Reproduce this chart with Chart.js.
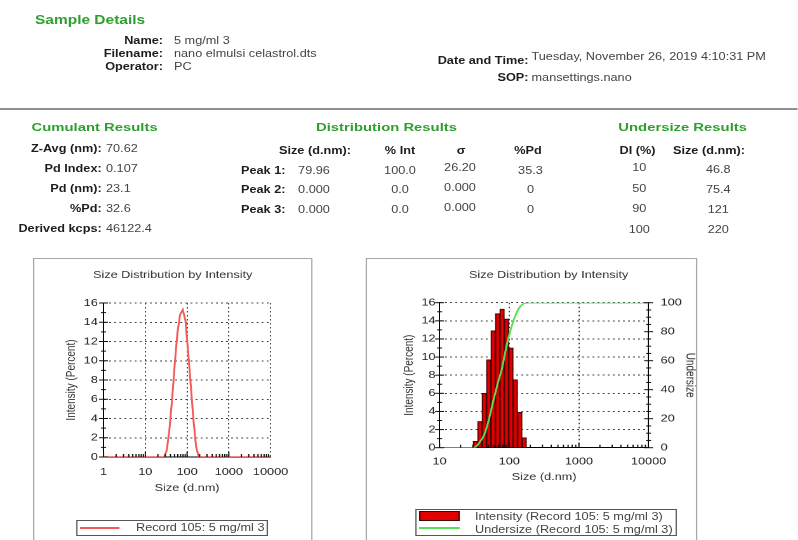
<!DOCTYPE html>
<html>
<head>
<meta charset="utf-8">
<script src="https://cdn.jsdelivr.net/npm/chart.js@4.4.0/dist/chart.umd.min.js"></script>
<style>
  html, body { margin: 0; padding: 0; background: #fff; overflow: hidden; }
  body { width: 798px; height: 540px; position: relative; }
  #page { position: absolute; left: 0; top: 0; height: 540px; transform-origin: 0 0;
          font-family: 'Liberation Sans', Arial, sans-serif; }
  .t { position: absolute; white-space: nowrap; font-size: 10px; line-height: 12px; color: #444; }
  .b { font-weight: bold; color: #1d1d1d; }
  .g { font-weight: bold; color: #2f9f2f; font-size: 11.7px; }
  .box { position: absolute; box-sizing: border-box; }
  canvas { position: absolute; }
</style>
</head>
<body>
<div id="page"></div>
<script>
// bin sizes (d.nm) and intensity (%)
const sizes     = [1, 28.21, 32.67, 37.84, 43.82, 50.75, 58.77, 68.06, 78.82, 91.28, 105.7, 122.4, 141.8, 164.2, 190.1, 10000];
const intensity = [0, 0,     0.7,   2.9,   6.0,   9.7,   12.9,  14.8,  15.3,  14.2,  11.0,  7.5,   3.9,   1.1,   0,     0];
const undersize = [0, 0,     0.5,   4,     9,     19,    32,    44,    55,    70,    82,    91,    97,    99.5,  100,   100];

const xTicksLeft  = [1, 10, 100, 1000, 10000];
const xTicksRight = [10, 100, 1000, 10000];
const intensityRange = [0, 16];
const undersizeRange = [0, 100];

const chartTitle = 'Size Distribution by Intensity';
const legendLeft = 'Record 105: 5 mg/ml 3';
const legendRight = ['Intensity (Record 105: 5 mg/ml 3)', 'Undersize (Record 105: 5 mg/ml 3)'];

// report text
const sampleLabels = ['Name:', 'Filename:', 'Operator:'];
const sampleValues = ['5 mg/ml 3', 'nano elmulsi celastrol.dts', 'PC'];
const cumulantLabels = ['Z-Avg (nm):', 'Pd Index:', 'Pd (nm):', '%Pd:', 'Derived kcps:'];
const cumulantValues = ['70.62', '0.107', '23.1', '32.6', '46122.4'];
const peakLabels = ['Peak 1:', 'Peak 2:', 'Peak 3:'];
const peakSize  = ['79.96', '0.000', '0.000'];
const peakInt   = ['100.0', '0.0', '0.0'];
const peakSigma = ['26.20', '0.000', '0.000'];
const peakPd    = ['35.3', '0', '0'];
const diPercent = ['10', '50', '90', '100'];
const diSize    = ['46.8', '75.4', '121', '220'];

// the whole report is stretched sideways
const S = 1.27;
const page = document.getElementById('page');
page.style.width = (798 / S) + 'px';
page.style.transform = 'scaleX(' + S + ')';

function put(str, x, y, cls, align) {
  const d = document.createElement('div');
  d.className = 't ' + (cls || '');
  d.textContent = str;
  d.style.top = (y - 6) + 'px';
  if (align === 'r') {
    d.style.right = ((798 - x) / S) + 'px';
  } else if (align === 'c') {
    d.style.left = (x / S) + 'px';
    d.style.transform = 'translateX(-50%)';
  } else {
    d.style.left = (x / S) + 'px';
  }
  page.appendChild(d);
  return d;
}

function rect(x1, y1, x2, y2, css) {
  const d = document.createElement('div');
  d.className = 'box';
  d.style.cssText = css;
  d.style.left = (x1 / S) + 'px';
  d.style.top = y1 + 'px';
  d.style.width = ((x2 - x1) / S) + 'px';
  d.style.height = (y2 - y1) + 'px';
  page.appendChild(d);
  return d;
}

// header
put('Sample Details', 35, 20, 'g').style.fontSize = '12.2px';
sampleLabels.forEach((s, i) => put(s, 163, 41 + i * 13, 'b', 'r'));
sampleValues.forEach((s, i) => put(s, 174, 41 + i * 13));
put('Date and Time:', 528.5, 61, 'b', 'r');
put('Tuesday, November 26, 2019 4:10:31 PM', 531.5, 57);
put('SOP:', 528.5, 77.5, 'b', 'r');
put('mansettings.nano', 531.5, 77.5);
rect(0, 107.5, 798, 110, 'background:#8f8f8f;');

// cumulant
put('Cumulant Results', 31.5, 127, 'g');
cumulantLabels.forEach((s, i) => put(s, 101.7, 149.3 + i * 20, 'b', 'r'));
cumulantValues.forEach((s, i) => put(s, 106, 149.3 + i * 20));

// distribution
put('Distribution Results', 316, 127, 'g');
put('Size (d.nm):', 315, 151, 'b', 'c');
put('% Int', 400, 151, 'b', 'c');
put('\u03c3', 461, 150.5, 'b', 'c');
put('%Pd', 528, 151, 'b', 'c');
peakLabels.forEach((s, i) => put(s, 241, 170.7 + i * 19.5, 'b'));
peakSize.forEach((s, i) => put(s, 314, 170.7 + i * 19.5, '', 'c'));
peakInt.forEach((s, i) => put(s, 400, 170.7 + i * 19.5, '', 'c'));
peakSigma.forEach((s, i) => put(s, 460, 167.5 + i * 20, '', 'c'));
peakPd.forEach((s, i) => put(s, 530.5, 170.7 + i * 19.5, '', 'c'));

// undersize
put('Undersize Results', 618.3, 127, 'g');
put('DI (%)', 637.5, 151, 'b', 'c');
put('Size (d.nm):', 709, 151, 'b', 'c');
diPercent.forEach((s, i) => put(s, 639.3, 168 + i * 20.5, '', 'c'));
diSize.forEach((s, i) => put(s, 718.3, 169.5 + i * 20.3, '', 'c'));

// chart frames
rect(33, 258, 313, 600, 'border:1.5px solid #a8a8a8;');
rect(366, 258, 697, 600, 'border:1.5px solid #a8a8a8;');

Chart.defaults.font.family = "'Liberation Sans', Arial, sans-serif";
Chart.defaults.font.size = 10;
Chart.defaults.color = '#222';

function canvasAt(x1, width, top, height) {
  const c = document.createElement('canvas');
  c.width = width;
  c.height = height;
  c.style.left = (x1 / S) + 'px';
  c.style.top = top + 'px';
  page.appendChild(c);
  return c;
}

function points(xs, ys) {
  return xs.map((x, i) => ({ x: x, y: ys[i] }));
}

// small solid tick marks on the axes
const tickMarks = {
  id: 'tickMarks',
  afterDatasetsDraw(chart, args, opts) {
    const { ctx, chartArea: a, scales } = chart;
    const line = (x1, y1, x2, y2) => { ctx.beginPath(); ctx.moveTo(x1, y1); ctx.lineTo(x2, y2); ctx.stroke(); };
    ctx.save();
    ctx.strokeStyle = '#111';
    ctx.lineWidth = 1;
    const x = scales.x;
    for (let d = x.min; d < x.max; d *= 10) {
      for (let k = 1; k < 10; k++) {
        const px = x.getPixelForValue(d * k);
        line(px, a.bottom, px, a.bottom - (k === 1 ? 5 : 3));
      }
    }
    [['y', a.left], ['y2', a.right]].forEach(([id, ax]) => {
      const s = scales[id];
      if (!s || !opts[id]) return;
      const major = s.options.ticks.stepSize;
      for (let v = s.min; v <= s.max; v += opts[id]) {
        const py = s.getPixelForValue(v);
        const len = v % major === 0 ? 3.5 : 2;
        line(ax - len, py, ax + len, py);
      }
    });
    ctx.restore();
  }
};

function logAxis(ticks, tickPad, titlePad, height) {
  return {
    type: 'logarithmic',
    min: ticks[0],
    max: ticks[ticks.length - 1],
    offset: false,
    afterBuildTicks: s => { s.ticks = ticks.map(v => ({ value: v })); },
    afterFit: s => { s.height = height; },
    ticks: { padding: tickPad, autoSkip: false, maxRotation: 0, callback: v => String(v) },
    grid: { color: '#444', drawTicks: false, offset: false },
    border: { display: true, color: '#000', width: 1, dash: [1.5, 2.5] },
    title: { display: true, text: 'Size (d.nm)', color: '#333', padding: { top: 0, bottom: titlePad } }
  };
}

function intensityAxis(tickPad, titlePad, width) {
  return {
    type: 'linear',
    position: 'left',
    min: intensityRange[0],
    max: intensityRange[1],
    afterFit: s => { s.width = width; },
    ticks: { stepSize: 2, padding: tickPad },
    grid: { color: '#444', drawTicks: false },
    border: { display: true, color: '#000', width: 1, dash: [1.5, 2.5] },
    title: { display: true, text: 'Intensity (Percent)', color: '#333', padding: { top: titlePad, bottom: 0 } }
  };
}

const titleOpts = {
  display: true, text: chartTitle, color: '#333',
  font: { size: 10, weight: 'normal' }, padding: { top: 7, bottom: 22 }
};

// left chart: intensity line
const leftW = 216;
new Chart(canvasAt(36, leftW, 262, 238), {
  type: 'line',
  data: {
    datasets: [{
      label: legendLeft,
      data: points(sizes, intensity),
      yAxisID: 'y',
      borderColor: '#f25a5a',
      borderWidth: 1.5,
      pointRadius: 0,
      tension: 0
    }]
  },
  options: {
    responsive: false,
    animation: false,
    devicePixelRatio: 2,
    plugins: {
      legend: { display: false },
      tooltip: { enabled: false },
      title: titleOpts,
      tickMarks: { y: 1 }
    },
    scales: {
      x: logAxis(xTicksLeft, 9.3, 5.7, 43),
      y: intensityAxis((104 - 98.3) / S, 22, (104 - 36) / S),
      pad: {
        type: 'linear', axis: 'y', position: 'right', display: true,
        ticks: { display: false }, grid: { display: false, drawTicks: false }, border: { display: false },
        afterFit: s => { s.width = 36 / S + leftW - 271 / S; }
      }
    }
  },
  plugins: [tickMarks]
});

// right chart: intensity bars + cumulative undersize
const rightW = 282;
const barPts = points(sizes, intensity).filter(p => p.y > 0);
new Chart(canvasAt(369, rightW, 262, 230), {
  type: 'bar',
  data: {
    datasets: [{
      type: 'bar',
      label: legendRight[0],
      data: barPts,
      yAxisID: 'y',
      backgroundColor: '#e00000',
      borderColor: '#4a0000',
      borderWidth: 1,
      barPercentage: 1,
      categoryPercentage: 1,
      order: 2
    }, {
      type: 'line',
      label: legendRight[1],
      data: points(sizes, undersize),
      yAxisID: 'y2',
      borderColor: '#58e058',
      borderWidth: 1.5,
      pointRadius: 0,
      cubicInterpolationMode: 'monotone',
      order: 1
    }]
  },
  options: {
    responsive: false,
    animation: false,
    devicePixelRatio: 2,
    plugins: {
      legend: { display: false },
      tooltip: { enabled: false },
      title: Object.assign({}, titleOpts, { padding: { top: 7, bottom: 21.7 } }),
      tickMarks: { y: 1, y2: 5 }
    },
    scales: {
      x: logAxis(xTicksRight, 8, 8.7, 44.3),
      y: intensityAxis((439 - 435) / S, 25, (439 - 369) / S),
      y2: {
        type: 'linear',
        position: 'right',
        min: undersizeRange[0],
        max: undersizeRange[1],
        afterFit: s => { s.width = 369 / S + rightW - 648 / S; },
        ticks: { stepSize: 20, padding: (660 - 648) / S },
        grid: { drawOnChartArea: false, drawTicks: false },
        border: { display: true, color: '#000', width: 1 },
        title: { display: true, text: 'Undersize', color: '#333', padding: { top: 23.8, bottom: 0 } }
      }
    }
  },
  plugins: [tickMarks]
});

// legends
rect(76, 519.5, 267.5, 535.5, 'border:1px solid #555;');
rect(79.5, 526.5, 120, 528.5, 'border-top:2px solid #f25a5a;');
put(legendLeft, 136, 527.5);

rect(415, 508.5, 677, 535.5, 'border:1px solid #555;');
rect(418.5, 510.5, 460, 520.5, 'background:#e00000;border:1px solid #4a0000;');
rect(418.5, 526.5, 460, 528.5, 'border-top:2px solid #58e058;');
put(legendRight[0], 475, 516.5);
put(legendRight[1], 475, 529.5);
</script>
</body>
</html>
